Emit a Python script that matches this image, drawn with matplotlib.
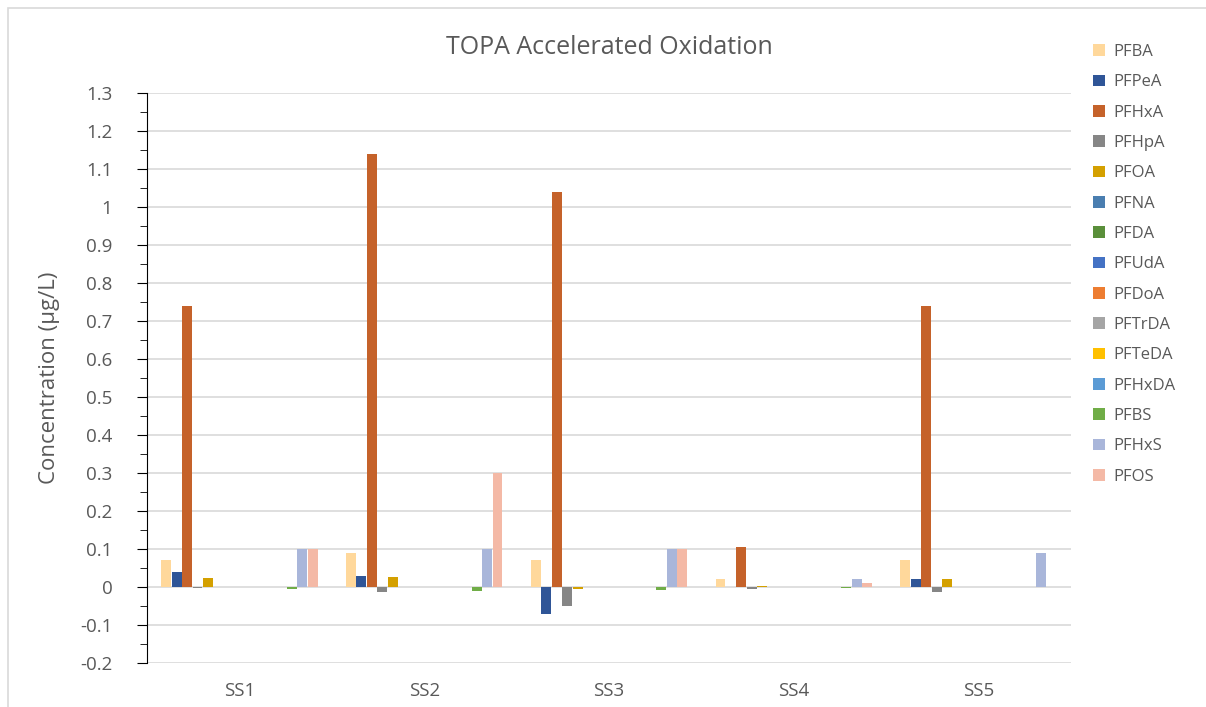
import numpy as np
import matplotlib
matplotlib.use('Agg')
import matplotlib.pyplot as plt
from matplotlib.patches import Rectangle
from matplotlib.ticker import MultipleLocator

# Data
sites = ['SS1', 'SS2', 'SS3', 'SS4', 'SS5']
compounds = ['PFBA', 'PFPeA', 'PFHxA', 'PFHpA', 'PFOA', 'PFNA', 'PFDA', 'PFUdA',
             'PFDoA', 'PFTrDA', 'PFTeDA', 'PFHxDA', 'PFBS', 'PFHxS', 'PFOS']
colors = ['#FFD89B', '#2F5597', '#C5622A', '#868686', '#D4A000', '#4A7EB0',
          '#5A8F3A', '#4472C4', '#ED7D31', '#A5A5A5', '#FFC000', '#5B9BD5',
          '#70AD47', '#A9B6DA', '#F4B9A6']
values = {
    'PFBA':   [0.07, 0.09, 0.07, 0.02, 0.07],
    'PFPeA':  [0.04, 0.03, -0.07, 0.0, 0.022],
    'PFHxA':  [0.74, 1.14, 1.04, 0.104, 0.74],
    'PFHpA':  [-0.003, -0.012, -0.05, -0.005, -0.014],
    'PFOA':   [0.025, 0.027, -0.004, 0.002, 0.022],
    'PFNA':   [0, 0, 0, 0, 0.001],
    'PFDA':   [0, 0, 0, 0, 0],
    'PFUdA':  [0, 0, 0, 0, 0],
    'PFDoA':  [0, 0, 0, 0, 0],
    'PFTrDA': [0, 0, 0, 0, 0],
    'PFTeDA': [0, 0, 0, 0, 0],
    'PFHxDA': [0, 0, 0, 0, 0],
    'PFBS':   [-0.005, -0.01, -0.008, -0.003, 0],
    'PFHxS':  [0.1, 0.1, 0.1, 0.02, 0.09],
    'PFOS':   [0.1, 0.3, 0.1, 0.01, 0.0],
}

plt.rcParams['font.family'] = ['Open Sans', 'DejaVu Sans']
text_color = '#595959'

fig = plt.figure(figsize=(12.06, 7.07), dpi=100)
ax = fig.add_axes([147 / 1206, 1 - 663 / 707, (1071 - 147) / 1206, (663 - 93) / 707])

# chart frame
fig.patches.append(Rectangle((8 / 1206, -0.01), 1.0, 1 - 8 / 707 + 0.01,
                             transform=fig.transFigure, fill=False,
                             edgecolor='#D9D9D9', linewidth=1.2))

x = np.arange(len(sites))
n = len(compounds)
total = 0.85
w = total / n
for i, (name, c) in enumerate(zip(compounds, colors)):
    ax.bar(x - total / 2 + w * (i + 0.5), values[name], width=w * 0.95,
           color=c, label=name, zorder=3)

ticks = np.round(np.arange(-0.2, 1.31, 0.1), 2)
ax.set_xlim(-0.5, len(sites) - 0.5)
ax.set_ylim(-0.2, 1.3)
ax.set_yticks(ticks)
ax.set_yticklabels([f'{v:g}' for v in ticks])
ax.yaxis.set_minor_locator(MultipleLocator(0.05))
ax.set_xticks(x)
ax.set_xticklabels(sites)
ax.grid(axis='y', color='#D9D9D9', linewidth=1.2, zorder=0)
for s in ['top', 'right', 'bottom']:
    ax.spines[s].set_visible(False)
ax.spines['left'].set_color('black')
ax.tick_params(axis='y', which='major', length=7, direction='out', colors='black',
               labelcolor=text_color, labelsize=13.5, pad=18)
ax.tick_params(axis='y', which='minor', length=5, direction='out', colors='black')
ax.tick_params(axis='x', length=0, labelcolor=text_color, labelsize=13.5, pad=14)

ax.set_ylabel('Concentration (µg/L)', fontsize=16, color=text_color, labelpad=14)
fig.text(609 / 1206, 1 - 48 / 707, 'TOPA Accelerated Oxidation', ha='center',
         va='center', fontsize=18, color=text_color)

leg = ax.legend(loc='upper left', bbox_to_anchor=(1078 / 1206, 1 - 29 / 707),
                bbox_transform=fig.transFigure, frameon=False, fontsize=12,
                handlelength=0.7, handleheight=0.7, handletextpad=0.5,
                labelspacing=0.86, labelcolor=text_color)

fig.savefig('out.png', dpi=100)
